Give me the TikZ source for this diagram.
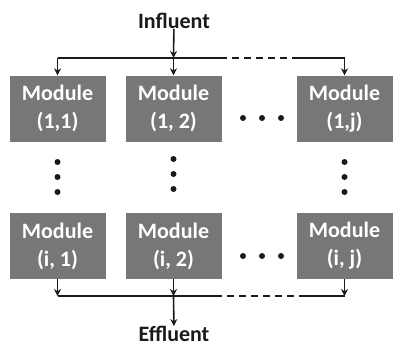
\documentclass[tikz,border=0pt]{standalone}
\usepackage{fontspec}
\setmainfont{Carlito}
\usepackage{tikz}
\usetikzlibrary{arrows.meta,calc,positioning}
\definecolor{modgris}{HTML}{77777A}
\definecolor{tinta}{HTML}{1A1A1A}
\tikzset{
  modulo/.style={rectangle,fill=modgris,text=white,minimum width=96pt,minimum height=66pt,inner sep=0pt,align=center,font=\fontsize{22}{28}\selectfont\bfseries},
  rotulo/.style={text=tinta,inner sep=0pt,font=\fontsize{22}{26}\selectfont\bfseries},
  tubo/.style={draw=tinta,line width=1.6pt},
  flujo/.style={draw=tinta,line width=1.6pt,-{Stealth[length=7pt,width=7pt]}},
  tubodash/.style={draw=tinta,line width=1.6pt,dash pattern=on 7pt off 5pt},
  punto/.style={circle,fill=tinta,inner sep=0pt,minimum size=6pt},
}
\begin{document}
\begin{tikzpicture}[x=1pt,y=-1pt]
\useasboundingbox (0,0) rectangle (393,346);
\node[rotulo] (inf) at (174,21) {Influent};
\node[rotulo] (efl) at (174,334) {Effluent};
\node[modulo] (m11) at (57.5,108.5) {Module\\(1,1)};
\node[modulo] (m12) at (173.5,108.5) {Module\\(1, 2)};
\node[modulo] (m1j) at (344.5,108.5) {Module\\(1,j)};
\node[modulo] (mi1) at (57.5,246) {Module\\(i, 1)};
\node[modulo] (mi2) at (173.5,246) {Module\\(i, 2)};
\node[modulo] (mij) at (344.5,246) {Module\\(i, j)};
% distribuidor de entrada
\coordinate (e1) at (m11.center |- 0,58);
\coordinate (e2) at (m12.center |- 0,58);
\coordinate (e3) at (m1j.center |- 0,58);
\coordinate (ed1) at (220,58);
\coordinate (ed2) at (298,58);
\draw[flujo] (inf) -- (e2);
\draw[tubo] (e1) -- (ed1);
\draw[tubodash] (ed1) -- (ed2);
\draw[tubo] (ed2) -- (e3);
\draw[flujo] (e1) -- (m11);
\draw[flujo] (e2) -- (m12);
\draw[flujo] (e3) -- (m1j);
% colector de salida
\coordinate (s1) at (mi1.center |- 0,296);
\coordinate (s2) at (mi2.center |- 0,296);
\coordinate (s3) at (mij.center |- 0,296);
\coordinate (sd1) at (215,296);
\coordinate (sd2) at (300,296);
\draw[flujo] (mi1) -- (s1);
\draw[flujo] (mi2) -- (s2);
\draw[flujo] (mij) -- (s3);
\draw[tubo] (s1) -- (sd1);
\draw[tubodash] (sd1) -- (sd2);
\draw[tubo] (sd2) -- (s3);
\draw[flujo] (s2) -- (efl);
% puntos suspensivos
\foreach \x in {243,262,281} {
  \node[punto] at (\x,118) {};
  \node[punto] at (\x,256) {};
}
\foreach \y in {162,177,192} {
  \node[punto] at (57.5,\y) {};
  \node[punto] at (344.5,\y) {};
}
\foreach \y in {159,174,189}
  \node[punto] at (173.5,\y) {};
\end{tikzpicture}
\end{document}
